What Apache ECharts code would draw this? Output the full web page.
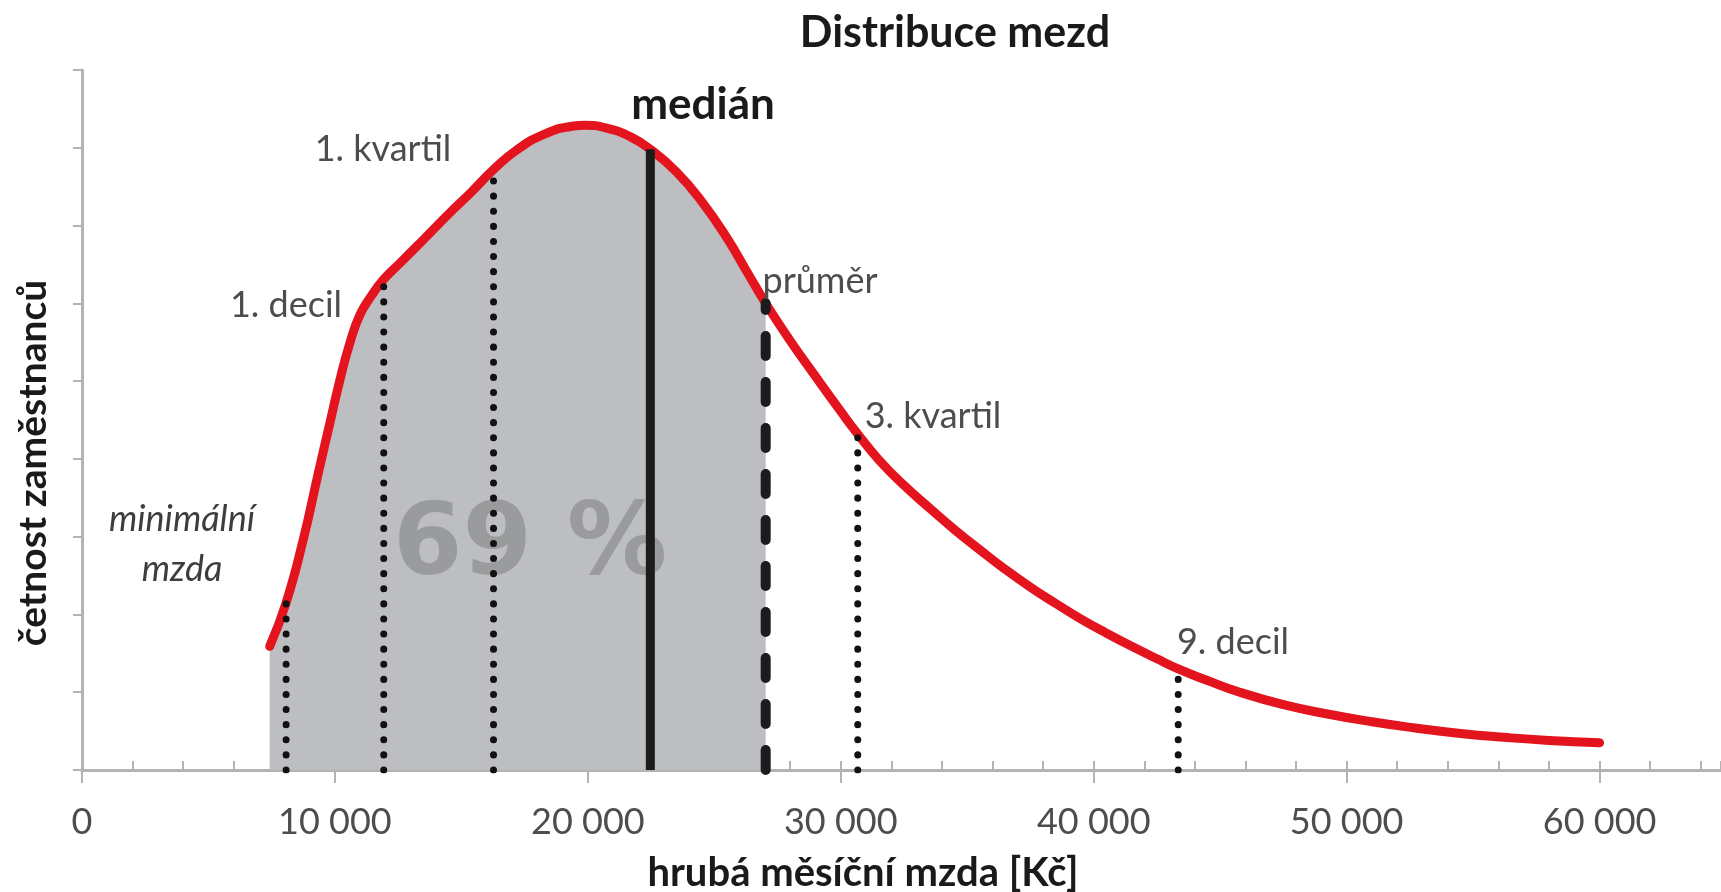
<!DOCTYPE html>
<html><head><meta charset="utf-8">
<script src="https://cdn.jsdelivr.net/npm/echarts@6/dist/echarts.min.js"></script>
<style>html,body{margin:0;padding:0;background:#fff}#c{width:1721px;height:892px}</style>
</head><body><div id="c"></div>
<script>
// ---- data ----
const wage = [7420, 8070, 8760, 9330, 9800, 10200, 10600, 11000, 11450, 11930, 12580, 13500, 14500, 15360, 16270, 17180, 18310, 19440, 19870, 20780, 21690, 22470, 23500, 24500, 25500, 26300, 27030, 28000, 29000, 30000, 30670, 31500, 32500, 33500, 34500, 35500, 36500, 37500, 38500, 39500, 40500, 41500, 42500, 43340, 44500, 45770, 47500, 49240, 51000, 52710, 54500, 56230, 58000, 60000];
const density = [1.59, 2.15, 2.98, 3.80, 4.46, 5.02, 5.50, 5.86, 6.10, 6.31, 6.52, 6.82, 7.15, 7.42, 7.72, 7.97, 8.18, 8.28, 8.29, 8.25, 8.14, 7.98, 7.69, 7.31, 6.84, 6.40, 6.00, 5.52, 5.06, 4.61, 4.32, 3.99, 3.66, 3.37, 3.09, 2.83, 2.58, 2.35, 2.14, 1.94, 1.76, 1.59, 1.43, 1.30, 1.15, 1.00, 0.84, 0.72, 0.62, 0.54, 0.47, 0.42, 0.38, 0.35];
const statNames = ['minimální mzda', '1. decil', '1. kvartil', 'medián', 'průměr', '3. kvartil', '9. decil'];
const statWage = [8070, 11930, 16270, 22470, 27030, 30670, 43340];
const shareLabel = '69 %';
const xTickStep = 10000;
const xMinorStep = 2000;

// ---- chart ----
const chart = echarts.init(document.getElementById('c'), null, {renderer: 'canvas'});
const curve = wage.map((w, i) => [w, density[i]]);
const avgWage = statWage[statNames.indexOf('průměr')];
const fillData = curve.filter(p => p[0] <= avgWage);
const heightAt = w => density[wage.indexOf(w)];

const AXIS = '#b3b3b3';
const FONT = 'Lato';
const SMOOTH = 0.5;

const dotted = {color: '#111', width: 7, type: [0.1, 15], cap: 'round'};
const styles = {
  'medián': {color: '#1c1c1c', width: 9, type: 'solid'},
  'průměr': {color: '#1c1c1c', width: 10, type: [20, 26], cap: 'round'}
};

const statSeries = statNames.map((n, i) => ({
  name: n, type: 'line', xAxisIndex: 0, yAxisIndex: 0, z: 4,
  data: [[statWage[i], 0], [statWage[i], heightAt(statWage[i])]],
  symbol: 'none', silent: true,
  lineStyle: styles[n] || dotted
}));

const option = {
  animation: false,
  backgroundColor: '#fff',
  grid: {left: 82, right: 0, top: 70, bottom: 122},
  xAxis: [{
    type: 'value', min: 0, max: 64800, interval: xTickStep,
    axisLine: {show: true, lineStyle: {color: AXIS, width: 3}},
    axisTick: {show: true, length: 13, lineStyle: {color: AXIS, width: 2}},
    axisLabel: {show: true, margin: 34, color: '#4d4d4d', fontFamily: FONT, fontSize: 36,
      showMaxLabel: false,
      formatter: v => v === 0 ? '0' : (v / 1000) + ' 000'},
    splitLine: {show: false}
  }, {
    type: 'value', min: 0, max: 64800, interval: xMinorStep, position: 'bottom',
    axisLine: {show: false},
    axisTick: {show: true, inside: true, length: 9, lineStyle: {color: AXIS, width: 2}},
    axisLabel: {show: false},
    splitLine: {show: false}
  }],
  yAxis: {
    type: 'value', min: 0, max: 9, interval: 1,
    axisLine: {show: true, lineStyle: {color: AXIS, width: 3}},
    axisTick: {show: true, length: 9, lineStyle: {color: AXIS, width: 2}},
    axisLabel: {show: false},
    splitLine: {show: false}
  },
  series: [{
    name: 'fill', type: 'line', data: fillData, smooth: SMOOTH, symbol: 'none', z: 1,
    lineStyle: {width: 0}, areaStyle: {color: '#bdbec1', opacity: 1}, silent: true
  }, {
    name: 'distribuce', type: 'line', data: curve, smooth: SMOOTH, symbol: 'none', z: 3,
    lineStyle: {color: '#e3141d', width: 9, cap: 'round'}, silent: true
  }].concat(statSeries)
};
chart.setOption(option);

function txt(text, x, y, font, fill, extra) {
  return Object.assign({type: 'text', x: x, y: y, z: 10, silent: true,
    style: {text: text, font: font, fill: fill, textAlign: 'center', textVerticalAlign: 'middle'}}, extra || {});
}
chart.setOption({graphic: [
  txt('Distribuce mezd', 955, 33, 'bold 43px Lato', '#1a1a1a'),
  txt('hrubá měsíční mzda [Kč]', 863, 873, 'bold 40px Lato', '#1a1a1a'),
  txt('četnost zaměstnanců', 33, 463, 'bold 39px Lato', '#1a1a1a', {rotation: Math.PI / 2}),
  txt('medián', 703, 105, 'bold 44px Lato', '#1a1a1a'),
  txt('1. kvartil', 383, 149, '36px Lato', '#4d4d4d'),
  txt('1. decil', 286, 305, '36px Lato', '#4d4d4d'),
  txt('průměr', 820, 281, '36px Lato', '#4d4d4d'),
  txt('3. kvartil', 933, 416, '36px Lato', '#4d4d4d'),
  txt('9. decil', 1233, 642, '36px Lato', '#4d4d4d'),
  txt('minimální', 182, 519, 'italic 36px Lato', '#3d3d3d'),
  txt('mzda', 182, 569, 'italic 36px Lato', '#3d3d3d'),
  txt(shareLabel, 530, 548, 'bold 100px "DejaVu Sans"', '#9a9b9d', {z: 2})
]});
</script>
</body></html>
